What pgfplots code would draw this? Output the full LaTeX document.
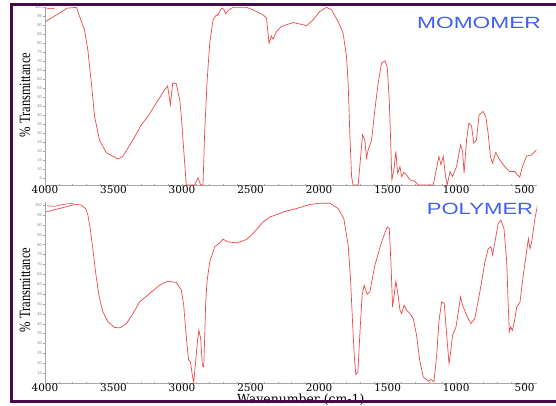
\documentclass[border=0pt]{standalone}
\usepackage{pgfplots}
\pgfplotsset{compat=1.18}
\usepackage{graphicx}
\usepackage{fontspec}
\setmainfont{Liberation Serif}
\newfontfamily\tickfont{DejaVu Serif}
\newfontfamily\sansfont{Liberation Sans}
\definecolor{framec}{RGB}{72,10,72}
\definecolor{specred}{RGB}{240,70,70}
\definecolor{lblblue}{RGB}{65,95,240}
\pgfplotsset{
  irstyle/.style={
    scale only axis, width=492bp,
    x dir=reverse, xmin=410, xmax=4000,
    axis lines=left, axis line style={-, gray!70, line width=0.5bp},
    xtick={4000,3500,3000,2500,2000,1500,1000,500},
    minor x tick num=4,
    tick align=center,
    major tick length=3bp, minor tick length=2bp,
    every tick/.style={gray!70, line width=0.4bp},
    /pgf/number format/1000 sep={},
    /pgf/number format/assume math mode=true,
    x tick label style={font=\tickfont\fontsize{10.5}{12}\selectfont, inner sep=0.5bp, yshift=1.5bp},
    y tick label style={font=\sansfont\fontsize{4}{5}\selectfont, text=gray, inner sep=1.5bp},
    clip=true,
  }
}
\begin{document}
\begin{tikzpicture}[x=1bp,y=1bp]
\path[use as bounding box] (0,0) rectangle (556,405);
% ---------------- MONOMER ----------------
\begin{axis}[irstyle, at={(45bp,220bp)}, anchor=south west,
  height=177.7bp, ymin=1, ymax=100,
  ytick={5,10,...,100},
  ylabel={\scalebox{1}[1.25]{\fontsize{12.6}{14}\selectfont \% Transmittance}},
  every axis y label/.style={at={(axis description cs:-0.0407,0.506)},anchor=center,rotate=90},
]
\addplot[specred, line width=0.7bp] coordinates {
(3996,92.1) (3900,96.5) (3840,99.5) (3770,100) (3748,95) (3712,87.5) (3687,76) (3662,58)
(3638,39) (3602,26) (3553,19) (3468,15.5) (3434,16.8) (3359,26) (3297,34.5)
(3251,39) (3188,46.7) (3127,54) (3105,56.2) (3085,45.7) (3068,57.8) (3042,57.4)
(3017,48.5) (3005,39) (2993,26) (2969,1) (2908,1) (2884,5) (2864,1) (2847,1)
(2835,30) (2818,58) (2798,80) (2774,93) (2749,95.8) (2740,95.5) (2713,99.5)
(2696,99) (2682,96.4) (2657,98.6) (2628,100) (2530,100) (2482,98.6) (2409,95.8)
(2384,94) (2365,80) (2348,84) (2336,82.3) (2311,86.5) (2275,89.3) (2190,91.5)
(2117,90.3) (2092,89.7) (2044,93) (1995,97.7) (1946,100) (1910,98.6) (1861,92)
(1825,85.6) (1800,72.6) (1788,57.8) (1776,30) (1763,5.7) (1752,1) (1715,1)
(1703,11.3) (1683,29) (1666,26) (1654,16) (1642,20.6) (1617,26) (1593,43)
(1569,57.8) (1544,69) (1520,70.2) (1503,67) (1488,48.5) (1478,26) (1469,3.9)
(1454,9.5) (1440,19.7) (1427,7.6) (1410,11.3) (1398,5.7) (1381,8) (1362,6.7)
(1337,3.9) (1301,3) (1276,1) (1167,1) (1150,7.6) (1126,16.9) (1111,12.3)
(1094,16.9) (1077,5.7) (1065,1) (1045,8.5) (1026,5.7) (997,11.3) (968,23.4)
(953,19.7) (942,7.6) (924,26) (907,35.5) (888,34) (871,24.3) (852,26) (833,40)
(803,42) (784,39.2) (767,30) (750,17) (735,13.2) (711,19.1) (682,15) (646,11.3)
(609,8.5) (572,8.5) (555,6.7) (536,5.4) (516,11.3) (487,17) (450,17.8) (414,20.6)
};
\addplot[specred, line width=0.6bp] coordinates {(3992,99.6) (3960,99.2) (3930,99.5)};
\end{axis}
\node[font=\sansfont\fontsize{16.3}{18}\selectfont, text=lblblue] at (479,382.5) {\scalebox{1.40}[1]{MOMOMER}};
% ---------------- POLYMER ----------------
\begin{axis}[irstyle, at={(45bp,22bp)}, anchor=south west,
  height=180.8bp, ymin=10, ymax=101.5,
  ytick={15,20,...,100},
  ylabel={\scalebox{1}[1.25]{\fontsize{12.6}{14}\selectfont \% Transmittance}},
  every axis y label/.style={at={(axis description cs:-0.0407,0.514)},anchor=center,rotate=90},
  xlabel={\tickfont\fontsize{12.5}{14}\selectfont Wavenumber (cm-1)},
  every axis x label/.style={at={(axis description cs:0.52,-0.058)},anchor=north,inner sep=0pt},
]
\addplot[specred, line width=0.7bp] coordinates {
(3991,96.6) (3845,99.2) (3772,100.5) (3736,100) (3704,98.3) (3687,95) (3670,88.2)
(3651,78) (3631,66.2) (3607,54.5) (3578,46) (3541,41) (3492,38.1) (3451,37.9)
(3407,40) (3359,45) (3310,51) (3237,55.3) (3164,59.5) (3103,61.5) (3042,60.9)
(3005,57) (2988,49.4) (2974,37.6) (2961,27.5) (2952,21.6) (2939,20.7) (2925,14)
(2915,10.3) (2901,20.7) (2888,30.8) (2877,36.7) (2864,32.5) (2852,19) (2842,18.2)
(2835,32.5) (2828,49.4) (2818,61.2) (2798,71.3) (2762,78.9) (2725,80.9) (2701,82.8)
(2665,81.4) (2603,80.9) (2530,82.6) (2482,85.7) (2409,91.5) (2360,94) (2287,95.8)
(2263,96.6) (2165,98.3) (2068,100.3) (1995,101) (1922,101) (1861,98.3) (1820,93.3)
(1788,79.8) (1771,62.9) (1756,41) (1744,24.1) (1732,14.3) (1717,15.6) (1703,34.2)
(1686,54.5) (1671,59.5) (1649,54.8) (1630,56.1) (1593,69.6) (1544,81.4) (1503,89)
(1488,88.2) (1476,71.3) (1464,48.5) (1452,54.5) (1440,61.5) (1427,56.1) (1410,46.9)
(1398,45.2) (1379,49.4) (1362,46.9) (1337,45.2) (1313,42.6) (1289,34.2) (1264,20.7)
(1240,13.1) (1203,10.9) (1184,11.8) (1162,10.6) (1142,24.1) (1126,41) (1106,51)
(1087,50.3) (1069,34.2) (1052,19.9) (1040,25.8) (1026,34.2) (1001,38.4) (982,46.9)
(968,53.6) (953,49.4) (924,44.3) (893,40.1) (864,42.6) (827,56.1) (790,71.3)
(766,78) (746,78.9) (734,74.7) (717,81.4) (693,90.7) (673,92.4) (651,88.2) (631,71.3)
(620,49.4) (612,35.9) (602,38.4) (590,36.7) (575,41) (558,48.5) (534,51) (510,64.6)
(473,83.1) (461,78) (449,81.4) (425,93.3) (405,100.5)
};
\addplot[specred, line width=0.6bp] coordinates {(3985,99.7) (3930,99.4) (3880,100.2) (3840,100.6) (3790,101)};
\end{axis}
\node[font=\sansfont\fontsize{16.3}{18}\selectfont, text=lblblue] at (480,196) {\scalebox{1.36}[1]{POLYMER}};
% ---------------- frame ----------------
\draw[framec, line width=3.4bp] (560,400.3) -- (11.3,400.3) -- (11.3,3.3) -- (560,3.3);
\end{tikzpicture}
\end{document}
